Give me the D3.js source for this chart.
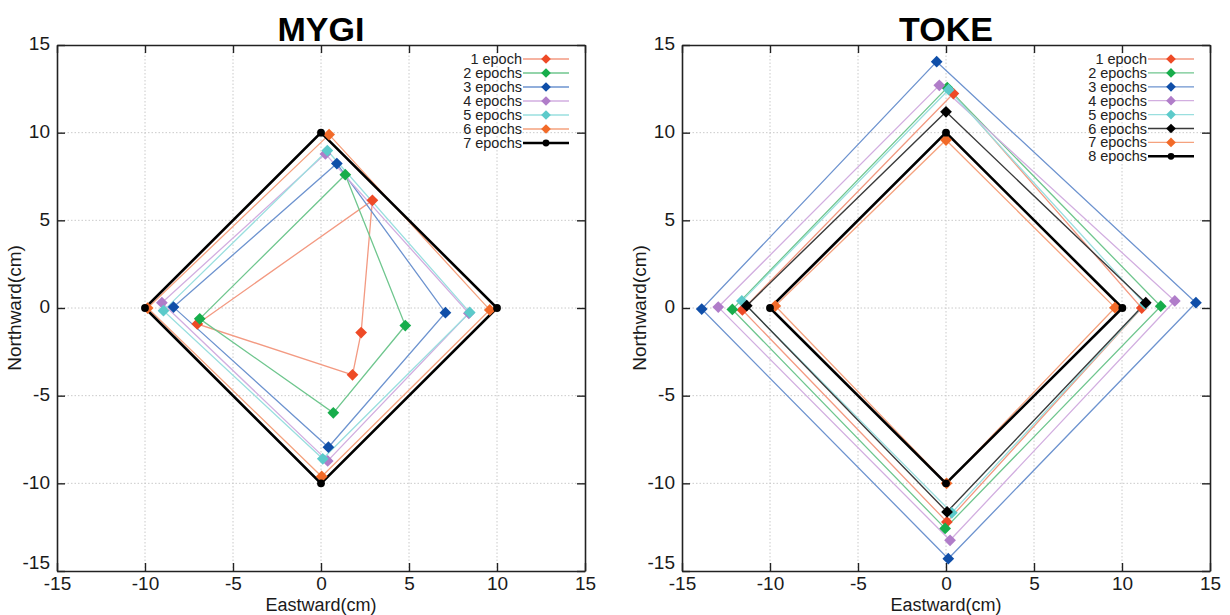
<!DOCTYPE html>
<html>
<head>
<meta charset="utf-8">
<script src="https://cdn.jsdelivr.net/npm/d3@7"></script>
<style>
  html, body { margin: 0; padding: 0; background: #fff; }
  svg { display: block; font-family: "Liberation Sans", Arial, sans-serif; }
</style>
</head>
<body>
<svg id="chart" width="1230" height="615"></svg>
<script>
// ---------------- DATA ----------------
// Tick values (both axes, both panels)
const tickValues = [-15, -10, -5, 0, 5, 10, 15];
const tickLabels = ["-15", "-10", "-5", "0", "5", "10", "15"];

// MYGI: each series is a closed loop of 4 points: top, right, bottom, left
const mygiSeries = ["1 epoch", "2 epochs", "3 epochs", "4 epochs", "5 epochs", "6 epochs", "7 epochs"];
const mygiEast = [
  [2.92, 2.28, 1.79, -7.03],
  [1.38, 4.79, 0.70, -6.89],
  [0.90, 7.07, 0.42, -8.38],
  [0.25, 8.40, 0.38, -9.04],
  [0.36, 8.45, 0.10, -8.95],
  [0.46, 9.59, 0.04, -9.85],
  [0.00, 10.00, 0.00, -10.00]
];
const mygiNorth = [
  [6.14, -1.40, -3.81, -0.91],
  [7.60, -1.00, -5.98, -0.62],
  [8.24, -0.27, -7.94, 0.05],
  [8.79, -0.30, -8.72, 0.30],
  [8.98, -0.25, -8.60, -0.15],
  [9.89, -0.11, -9.61, 0.00],
  [10.00, 0.00, -10.00, 0.00]
];

// TOKE
const tokeSeries = ["1 epoch", "2 epochs", "3 epochs", "4 epochs", "5 epochs", "6 epochs", "7 epochs", "8 epochs"];
const tokeEast = [
  [0.42, 11.12, 0.05, -11.57],
  [0.07, 12.20, -0.05, -12.14],
  [-0.53, 14.20, 0.13, -13.88],
  [-0.38, 13.00, 0.23, -12.94],
  [0.15, 11.30, 0.33, -11.60],
  [0.00, 11.35, 0.06, -11.32],
  [0.00, 9.60, 0.03, -9.70],
  [0.00, 10.02, 0.00, -10.00]
];
const tokeNorth = [
  [12.23, 0.00, -12.20, -0.11],
  [12.57, 0.10, -12.57, -0.08],
  [14.05, 0.30, -14.30, -0.06],
  [12.70, 0.40, -13.25, 0.05],
  [12.45, 0.22, -11.68, 0.40],
  [11.19, 0.30, -11.63, 0.13],
  [9.58, 0.02, -10.00, 0.12],
  [10.00, 0.00, -10.00, 0.00]
];

// ---------------- STYLES ----------------
const styleRed    = { marker: "#ee4a26", line: "#f39a82", lw: 1.3, shape: "diamond" };
const styleGreen  = { marker: "#17ad4b", line: "#6fc68e", lw: 1.3, shape: "diamond" };
const styleBlue   = { marker: "#0f4ea8", line: "#6d93cf", lw: 1.3, shape: "diamond" };
const stylePurple = { marker: "#b07dc9", line: "#d2aee0", lw: 1.3, shape: "diamond" };
const styleCyan   = { marker: "#5ccaca", line: "#9adfdf", lw: 1.3, shape: "diamond" };
const styleOrange = { marker: "#f26a28", line: "#f5a27e", lw: 1.3, shape: "diamond" };
const styleBlackD = { marker: "#000000", line: "#3a3a3a", lw: 1.4, shape: "diamond" };
const styleBlackC = { marker: "#000000", line: "#000000", lw: 2.6, shape: "circle" };

const mygiStyles = [styleRed, styleGreen, styleBlue, stylePurple, styleCyan, styleOrange, styleBlackC];
const tokeStyles = [styleRed, styleGreen, styleBlue, stylePurple, styleCyan, styleBlackD, styleOrange, styleBlackC];

const svg = d3.select("#chart");
const fmt = d => tickLabels[tickValues.indexOf(d)];

function drawPanel(cfg) {
  const { left, right, top, bottom, title, names, east, north, styles, legend } = cfg;
  const x = d3.scaleLinear().domain([-15, 15]).range([left, right]);
  const y = d3.scaleLinear().domain([-15, 15]).range([bottom, top]);
  const g = svg.append("g");

  // grid
  const grid = g.append("g");
  tickValues.slice(1, -1).forEach(v => {
    grid.append("line").attr("x1", x(v)).attr("x2", x(v)).attr("y1", top).attr("y2", bottom);
    grid.append("line").attr("y1", y(v)).attr("y2", y(v)).attr("x1", left).attr("x2", right);
  });
  grid.selectAll("line").attr("stroke", "#c4c4c4").attr("stroke-width", 0.9).attr("stroke-dasharray", "1.5,2");

  // axes (ticks inward)
  const fontSize = 19;
  const axB = g.append("g").attr("transform", `translate(0,${bottom})`)
    .call(d3.axisBottom(x).tickValues(tickValues).tickSizeInner(-8).tickSizeOuter(0).tickPadding(6).tickFormat(fmt));
  const axT = g.append("g").attr("transform", `translate(0,${top})`)
    .call(d3.axisTop(x).tickValues(tickValues).tickSizeInner(-8).tickSizeOuter(0).tickFormat(""));
  const axL = g.append("g").attr("transform", `translate(${left},0)`)
    .call(d3.axisLeft(y).tickValues(tickValues).tickSizeInner(-8).tickSizeOuter(0).tickPadding(7).tickFormat(fmt));
  const axR = g.append("g").attr("transform", `translate(${right},0)`)
    .call(d3.axisRight(y).tickValues(tickValues).tickSizeInner(-8).tickSizeOuter(0).tickFormat(""));
  [axB, axT, axL, axR].forEach(a => {
    a.select(".domain").attr("stroke", "#222").attr("stroke-width", 1.6);
    a.selectAll(".tick line").attr("stroke", "#222").attr("stroke-width", 1.4);
    a.selectAll(".tick text").attr("fill", "#1a1a1a").attr("font-size", fontSize)
      .attr("font-family", "'Liberation Sans', Arial, sans-serif");
  });
  axB.selectAll(".tick text").attr("dy", "0.71em");
  axL.selectAll(".tick text").attr("dy", d => d === -15 ? "-0.12em" : "0.25em");

  // axis labels
  g.append("text").attr("x", (left + right) / 2).attr("y", 610.5).attr("text-anchor", "middle")
    .attr("font-size", 18).attr("fill", "#1a1a1a").text("Eastward(cm)");
  g.append("text").attr("transform", `translate(${left - 36},${(top + bottom) / 2}) rotate(-90)`)
    .attr("text-anchor", "middle").attr("font-size", 19).attr("fill", "#1a1a1a").text("Northward(cm)");

  // title
  g.append("text").attr("x", (left + right) / 2).attr("y", 41).attr("text-anchor", "middle")
    .attr("font-size", 34).attr("font-weight", "bold").attr("fill", "#000").text(title);

  // series
  const lineGen = d3.line().x(d => x(d[0])).y(d => y(d[1])).curve(d3.curveLinearClosed);
  const diamond = d3.symbol().type(d3.symbolDiamond2 || d3.symbolDiamond).size(88);
  const circle = d3.symbol().type(d3.symbolCircle).size(48);
  names.forEach((name, i) => {
    const pts = east[i].map((e, k) => [e, north[i][k]]);
    const st = styles[i];
    g.append("path").attr("d", lineGen(pts)).attr("fill", "none")
      .attr("stroke", st.line).attr("stroke-width", st.lw).attr("stroke-linejoin", "miter");
  });
  names.forEach((name, i) => {
    const pts = east[i].map((e, k) => [e, north[i][k]]);
    const st = styles[i];
    g.append("g").selectAll("path").data(pts).join("path")
      .attr("transform", d => `translate(${x(d[0])},${y(d[1])})`)
      .attr("d", st.shape === "circle" ? circle() : diamond())
      .attr("fill", st.marker);
  });

  // legend
  const lg = g.append("g");
  const legDiamond = d3.symbol().type(d3.symbolDiamond2 || d3.symbolDiamond).size(60);
  const legCircle = d3.symbol().type(d3.symbolCircle).size(36);
  names.forEach((name, i) => {
    const st = styles[i];
    const yy = legend.y0 + i * legend.dy;
    lg.append("text").attr("x", legend.textEnd).attr("y", yy).attr("dy", "0.35em")
      .attr("text-anchor", "end").attr("font-size", 14.5).attr("fill", "#222").text(name);
    lg.append("line").attr("x1", legend.lineStart).attr("x2", legend.lineEnd).attr("y1", yy).attr("y2", yy)
      .attr("stroke", st.line).attr("stroke-width", st.lw);
    lg.append("path").attr("transform", `translate(${(legend.lineStart + legend.lineEnd) / 2},${yy})`)
      .attr("d", st.shape === "circle" ? legCircle() : legDiamond())
      .attr("fill", st.marker);
  });
}

drawPanel({
  left: 57, right: 585, top: 45, bottom: 571, title: "MYGI",
  names: mygiSeries, east: mygiEast, north: mygiNorth, styles: mygiStyles,
  legend: { y0: 59, dy: 14, textEnd: 522, lineStart: 523, lineEnd: 569 }
});
drawPanel({
  left: 682, right: 1210, top: 45, bottom: 571, title: "TOKE",
  names: tokeSeries, east: tokeEast, north: tokeNorth, styles: tokeStyles,
  legend: { y0: 59, dy: 13.9, textEnd: 1147, lineStart: 1148, lineEnd: 1194 }
});
</script>
</body>
</html>
